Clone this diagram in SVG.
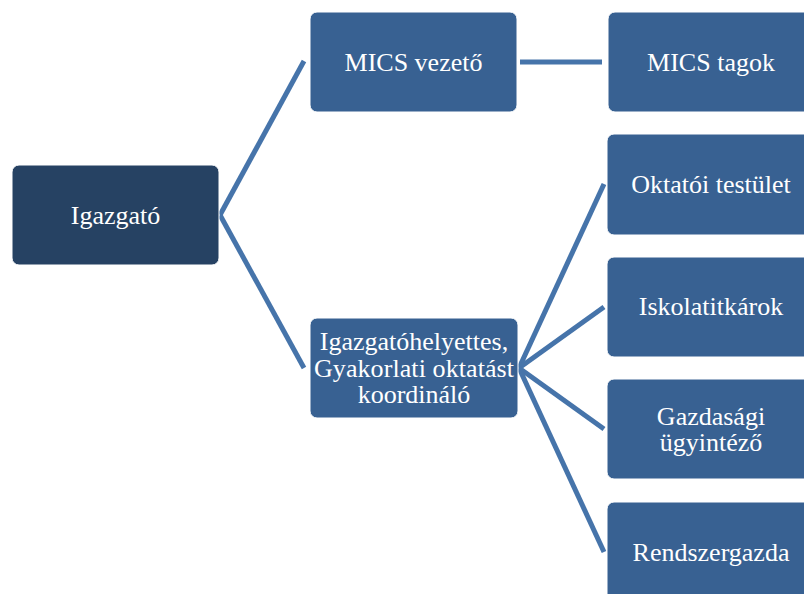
<svg xmlns="http://www.w3.org/2000/svg" width="804" height="594" viewBox="0 0 804 594">
<style>
.box{fill:#386192;stroke:#ffffff;stroke-width:1}
.root{fill:#264263;stroke:#ffffff;stroke-width:1}
.lbl{font-family:"Liberation Serif","Times New Roman",serif;font-size:26px;fill:#ffffff;text-anchor:middle}
.con{stroke:#4674aa;stroke-width:5;fill:none;stroke-linecap:butt}
</style>
<rect width="804" height="594" fill="#ffffff"/>
<g id="connectors">
<line class="con" x1="220" y1="215" x2="304" y2="61"/>
<line class="con" x1="220" y1="215" x2="304" y2="368"/>
<line class="con" x1="520" y1="62" x2="602" y2="62"/>
<line class="con" x1="519" y1="368" x2="604" y2="184"/>
<line class="con" x1="519" y1="368" x2="604" y2="307"/>
<line class="con" x1="519" y1="368" x2="604" y2="429"/>
<line class="con" x1="519" y1="368" x2="604" y2="552"/>
</g>
<g id="igazgato">
<rect class="root" x="12" y="165" width="207" height="100" rx="7"/>
<text class="lbl" x="115.5" y="224">Igazgató</text>
</g>
<g id="mics-vezeto">
<rect class="box" x="310" y="12" width="207" height="100" rx="7"/>
<text class="lbl" x="413.5" y="71">MICS vezető</text>
</g>
<g id="mics-tagok">
<rect class="box" x="608" y="12" width="207" height="100" rx="7"/>
<text class="lbl" x="711" y="71">MICS tagok</text>
</g>
<g id="igazgatohelyettes">
<rect class="box" x="310" y="318" width="208" height="100" rx="7"/>
<text class="lbl" x="414" y="350">Igazgatóhelyettes,</text>
<text class="lbl" x="414" y="377" textLength="200" lengthAdjust="spacing">Gyakorlati oktatást</text>
<text class="lbl" x="414" y="403">koordináló</text>
</g>
<g id="oktatoi-testulet">
<rect class="box" x="607" y="134" width="207" height="101" rx="7"/>
<text class="lbl" x="711" y="193">Oktatói testület</text>
</g>
<g id="iskolatitkarok">
<rect class="box" x="607" y="257" width="207" height="100" rx="7"/>
<text class="lbl" x="711" y="315">Iskolatitkárok</text>
</g>
<g id="gazdasagi">
<rect class="box" x="607" y="379" width="207" height="100" rx="7"/>
<text class="lbl" x="711" y="425">Gazdasági</text>
<text class="lbl" x="711" y="451">ügyintéző</text>
</g>
<g id="rendszergazda">
<rect class="box" x="607" y="502" width="207" height="100" rx="7"/>
<text class="lbl" x="711" y="561">Rendszergazda</text>
</g>
</svg>
